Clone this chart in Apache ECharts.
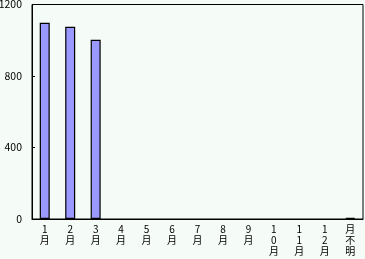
<!DOCTYPE html>
<html><head><meta charset="utf-8">
<script src="https://cdn.jsdelivr.net/npm/echarts@6/dist/echarts.min.js"></script>
<style>html,body{margin:0;padding:0;background:#f5fbf7;}#c{width:365px;height:259px;}</style>
</head><body><div id="c"></div>
<script>
const categories = ['1月','2月','3月','4月','5月','6月','7月','8月','9月','10月','11月','12月','月不明'];
const values = [1098, 1075, 1003, 0, 0, 0, 0, 0, 0, 0, 0, 0, 6];
const yTicks = [0, 400, 800, 1200];

const chart = echarts.init(document.getElementById('c'), null, {renderer: 'canvas'});
const font = "'Noto Sans CJK JP', sans-serif";
chart.setOption({
  backgroundColor: '#f5fbf7',
  animation: false,
  grid: {left: 32, right: 2, top: 4.5, bottom: 40, show: true, borderColor: '#000', borderWidth: 1,
    backgroundColor: '#f5fbf7', containLabel: false, outerBoundsMode: 'none'},
  xAxis: {
    type: 'category', data: categories,
    axisLine: {lineStyle: {color: '#000', width: 1}},
    axisTick: {inside: true, length: 2, lineStyle: {color: '#000'}},
    axisLabel: {color: '#000', fontSize: 10, fontFamily: font, lineHeight: 11, margin: 5, interval: 0,
      formatter: v => v.split('').join('\n')}
  },
  yAxis: {
    type: 'value', min: yTicks[0], max: yTicks[yTicks.length-1], interval: 400,
    splitLine: {show: false},
    axisLine: {show: true, lineStyle: {color: '#000', width: 1}},
    axisTick: {show: true, inside: true, length: 3, lineStyle: {color: '#000'}},
    axisLabel: {color: '#000', fontSize: 10.5, fontFamily: font, margin: 10, formatter: v => String(v)}
  },
  series: [{
    type: 'bar', barWidth: 10,
    data: values.map(v => v === 0 ? {value: v, itemStyle: {borderWidth: 0, opacity: 0}} : v),
    itemStyle: {color: '#9999ff', borderColor: '#000', borderWidth: 1.2}
  }]
});
</script></body></html>
